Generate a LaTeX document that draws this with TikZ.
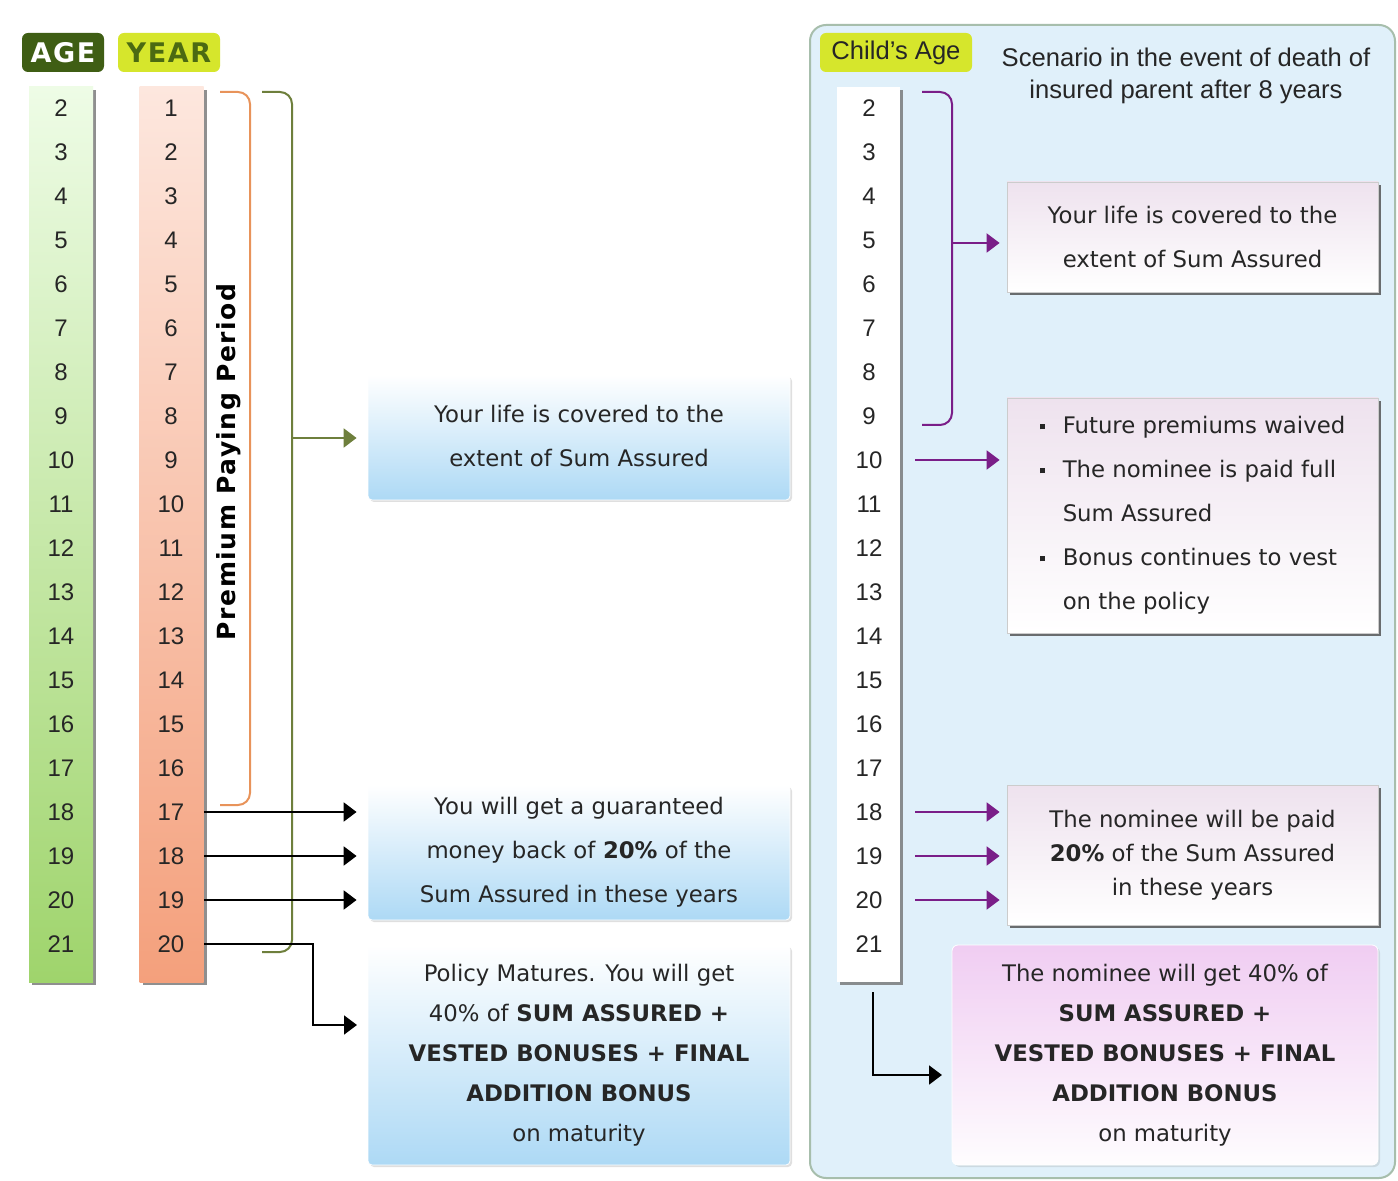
\documentclass[tikz,border=0pt]{standalone}
\usepackage{fontspec}
\setmainfont{Liberation Sans}
\newfontfamily\headfont{DejaVu Sans}
\newfontfamily\tagfont[LetterSpace=6]{DejaVu Sans}
\newfontfamily\boxfont{DejaVu Sans}
\usetikzlibrary{arrows.meta,shadows}

\definecolor{agedark}{HTML}{3F5E14}
\definecolor{yearlime}{HTML}{D6E62C}
\definecolor{yeartext}{HTML}{4B6A12}
\definecolor{agetop}{HTML}{EEFCE6}
\definecolor{agebot}{HTML}{9FD46C}
\definecolor{yrtop}{HTML}{FDE7DE}
\definecolor{yrbot}{HTML}{F4A07C}
\definecolor{brorange}{HTML}{E8935A}
\definecolor{brgreen}{HTML}{6E7F3C}
\definecolor{brpurple}{HTML}{7A1E88}
\definecolor{panelfill}{HTML}{E0F0FA}
\definecolor{paneldraw}{HTML}{A7BEAC}
\definecolor{bluebot}{HTML}{ADD9F5}
\definecolor{pinktop}{HTML}{EEE2EE}
\definecolor{violtop}{HTML}{F0CDF2}

\newcommand\sqb{\rule[0.35ex]{2.5pt}{2.5pt}\hspace{9pt}}

\begin{document}
\begin{tikzpicture}[x=0.5pt,y=0.5pt,yscale=-1,
  numtxt/.style={font=\fontsize{12}{14}\selectfont, text=black!85},
  boxtxt/.style={font=\boxfont\fontsize{11.4}{22}\selectfont, align=center, text=black!85},
  bluebox/.style={rounded corners=2pt, top color=white, bottom color=bluebot,
    draw=white, drop shadow={shadow xshift=1pt, shadow yshift=-1pt, opacity=0.25}},
  pinkbox/.style={top color=pinktop, bottom color=white, draw=black!20,
    drop shadow={shadow xshift=1.5pt, shadow yshift=-1.5pt, fill=black!70, opacity=0.8}},
  colbox/.style={minimum width=32pt, minimum height=447.5pt, inner sep=0pt,
    drop shadow={shadow xshift=1.5pt, shadow yshift=-1.5pt, fill=black!55, opacity=0.8}},
  blk/.style={-{Triangle[length=6.5pt,width=9.5pt]}, line width=1pt, black},
  prp/.style={-{Triangle[length=6.5pt,width=9.5pt]}, line width=1pt, brpurple},
  grn/.style={-{Triangle[length=6.5pt,width=9.5pt]}, line width=1pt, brgreen},
  tag/.style={rounded corners=3pt, minimum height=19.5pt, inner sep=0pt}]

\useasboundingbox (0,0) rectangle (1398,1181);
\fill[white] (0,0) rectangle (1398,1181);

% headings
\node[tag, fill=agedark, minimum width=41pt, text=white, font=\tagfont\bfseries\fontsize{13.5}{14}\selectfont] (agetag) at (63,52.5) {AGE};
\node[tag, fill=yearlime, minimum width=51pt, text=yeartext, font=\tagfont\bfseries\fontsize{13.5}{14}\selectfont] (yeartag) at (169,52.5) {YEAR};

% columns
\node[colbox, top color=agetop, bottom color=agebot] (agecol) at (61,534.5) {};
\node[colbox, top color=yrtop, bottom color=yrbot] (yrcol) at (171.5,534.5) {};
\foreach \a in {2,...,21}
  \node[numtxt] (age\a) at (61,20+44*\a) {\a};
\foreach \i in {1,...,20}
  \node[numtxt] (yr\i) at (171,64+44*\i) {\i};

% brackets
\draw[brorange, line width=1pt, rounded corners=6pt] (220,92) -- (250,92) -- (250,805) -- (220,805);
\draw[brgreen, line width=1pt, rounded corners=6pt] (262,92) -- (292,92) -- (292,952) -- (262,952);
\node[rotate=90, font=\tagfont\bfseries\fontsize{12.5}{14}\selectfont] (ppp) at (229,462) {Premium Paying Period};

% left boxes
\node[bluebox, minimum width=211pt, minimum height=62.5pt, boxtxt] (boxcover) at (579,437.5)
  {\raisebox{2pt}{Your life is covered to the}\\\raisebox{2pt}{extent of Sum Assured}};
\node[bluebox, minimum width=211pt, minimum height=67.5pt, boxtxt] (boxmoney) at (579,852.5)
  {You will get a guaranteed\\money back of \textbf{20\%} of the\\Sum Assured in these years};
\node[bluebox, minimum width=211pt, minimum height=110pt, boxtxt, font=\boxfont\fontsize{11.4}{20}\selectfont] (boxmature) at (579,1055)
  {Policy Matures. You will get\\40\% of \textbf{SUM ASSURED +}\\\textbf{VESTED BONUSES + FINAL}\\\textbf{ADDITION BONUS}\\on maturity};

\coordinate (gmid) at (292,438);
\draw[grn, shorten >=5.5pt] (gmid) -- (gmid -| boxcover.west);
\foreach \i in {17,18,19}
  \draw[blk, shorten >=5.5pt] (yr\i.center -| yrcol.east) -- (yr\i.center -| boxmoney.west);
\coordinate (matin) at (357,1025);
\draw[blk] (yr20.center -| yrcol.east) -| (313,1025) -- (matin);

% right panel
\draw[fill=panelfill, draw=paneldraw, line width=1pt, rounded corners=8pt] (810,25) rectangle (1395,1178);
\node[tag, fill=yearlime, minimum width=76pt, font=\fontsize{12.8}{14}\selectfont, text=black!85] (childtag) at (896,52.5) {Child's Age};
\node[align=center, font=\fontsize{12.8}{16}\selectfont, text=black!85] (scen) at (1186,76)
  {Scenario in the event of death of\\insured parent after 8 years};

\node[colbox, fill=white, minimum width=31.5pt] (childcol) at (868.5,534.5) {};
\foreach \a in {2,...,21}
  \node[numtxt] (ch\a) at (869,20+44*\a) {\a};

\draw[brpurple, line width=1pt, rounded corners=6pt] (922,92) -- (952,92) -- (952,425) -- (922,425);

\node[pinkbox, minimum width=185.5pt, minimum height=55pt, boxtxt] (boxA) at (1192.5,237)
  {Your life is covered to the\\extent of Sum Assured};
\node[pinkbox, minimum width=185.5pt, minimum height=117.5pt, boxtxt, align=left] (boxB) at (1192.5,515.5)
  {\sqb Future premiums waived\\\sqb The nominee is paid full\\\phantom{\sqb}Sum Assured\\\sqb Bonus continues to vest\\\phantom{\sqb}on the policy};
\node[pinkbox, minimum width=185.5pt, minimum height=70pt, boxtxt, font=\boxfont\fontsize{11.4}{17}\selectfont] (boxC) at (1192.5,855)
  {The nominee will be paid\\\textbf{20\%} of the Sum Assured\\in these years};
\node[rounded corners=3pt, top color=violtop, bottom color=white!95!violtop, draw=white,
  drop shadow={shadow xshift=1pt, shadow yshift=-1pt, opacity=0.2},
  minimum width=213pt, minimum height=110pt, boxtxt, font=\boxfont\fontsize{11.4}{20}\selectfont] (boxD) at (1165,1055)
  {The nominee will get 40\% of\\\textbf{SUM ASSURED +}\\\textbf{VESTED BONUSES + FINAL}\\\textbf{ADDITION BONUS}\\on maturity};

\coordinate (pmid) at (952,243);
\draw[prp, shorten >=3.5pt] (pmid) -- (pmid -| boxA.west);
\draw[prp, shorten >=3.5pt] (915,460) -- (915,460 -| boxB.west);
\foreach \a in {18,19,20}
  \draw[prp, shorten >=3.5pt] (915,20+44*\a) -- (ch\a.center -| boxC.west);
\coordinate (dstart) at (873,992);
\coordinate (din) at (942,1075);
\draw[blk] (dstart) |- (din);
\end{tikzpicture}
\end{document}
